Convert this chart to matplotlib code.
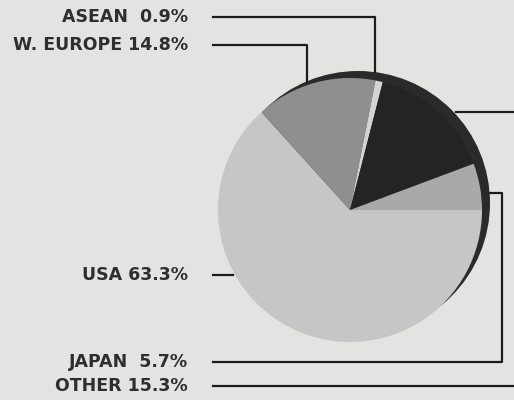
import matplotlib
matplotlib.use("Agg")
import matplotlib.pyplot as plt
from matplotlib.patches import Circle

# Data (pie drawn clockwise from 3 o'clock)
regions = ["USA", "W. EUROPE", "ASEAN", "OTHER", "JAPAN"]
shares = [63.3, 14.8, 0.9, 15.3, 5.7]
colors = ["#c6c6c6", "#8f8f8f", "#d4d4d4", "#242424", "#a9a9a9"]

# label texts (as printed)
label_text = {
    "ASEAN": "ASEAN  0.9%",
    "W. EUROPE": "W. EUROPE 14.8%",
    "USA": "USA 63.3%",
    "JAPAN": "JAPAN  5.7%",
    "OTHER": "OTHER 15.3%",
}

W, H = 514, 400
fig = plt.figure(figsize=(W / 100, H / 100), dpi=100)
fig.patch.set_facecolor("#e3e3e1")
ax = fig.add_axes([0, 0, 1, 1])

def Y(yp):
    return H - yp

cx, cy, r = 350, 210, 132
# shadow disc (3-D rim)
ax.add_patch(Circle((cx + 8, Y(cy - 7)), r, color="#2a2a2a", zorder=1, lw=0))
ax.pie(shares, colors=colors, startangle=0, counterclock=False,
       center=(cx, Y(cy)), radius=r, frame=True,
       wedgeprops=dict(linewidth=0, zorder=2))
ax.set_xlim(0, W)
ax.set_ylim(0, H)
ax.set_aspect("equal")
ax.axis("off")

lc = "#1c1c1c"
lw = 1.6
fkw = dict(fontsize=12.5, fontweight="bold", color="#2e2e2e",
           ha="right", va="center", family="DejaVu Sans")
tx = 188

# ASEAN
ax.plot([213, 375, 375], [Y(17), Y(17), Y(72)], color=lc, lw=lw, zorder=3)
ax.text(tx, Y(17), label_text["ASEAN"], **fkw)
# W. EUROPE
ax.plot([213, 307, 307], [Y(45), Y(45), Y(82)], color=lc, lw=lw, zorder=3)
ax.text(tx, Y(45), label_text["W. EUROPE"], **fkw)
# USA
ax.plot([213, 233], [Y(275), Y(275)], color=lc, lw=lw, zorder=3)
ax.text(tx, Y(275), label_text["USA"], **fkw)
# JAPAN
ax.plot([213, 502, 502, 490], [Y(362), Y(362), Y(193), Y(193)], color=lc, lw=lw, zorder=3)
ax.text(tx, Y(362), label_text["JAPAN"], **fkw)
# OTHER
ax.plot([456, 520], [Y(112), Y(112)], color=lc, lw=lw, zorder=3, clip_on=True)
ax.plot([213, 520], [Y(386), Y(386)], color=lc, lw=lw, zorder=3, clip_on=True)
ax.text(tx, Y(386), label_text["OTHER"], **fkw)

fig.savefig("out.png", dpi=100, facecolor=fig.get_facecolor())
